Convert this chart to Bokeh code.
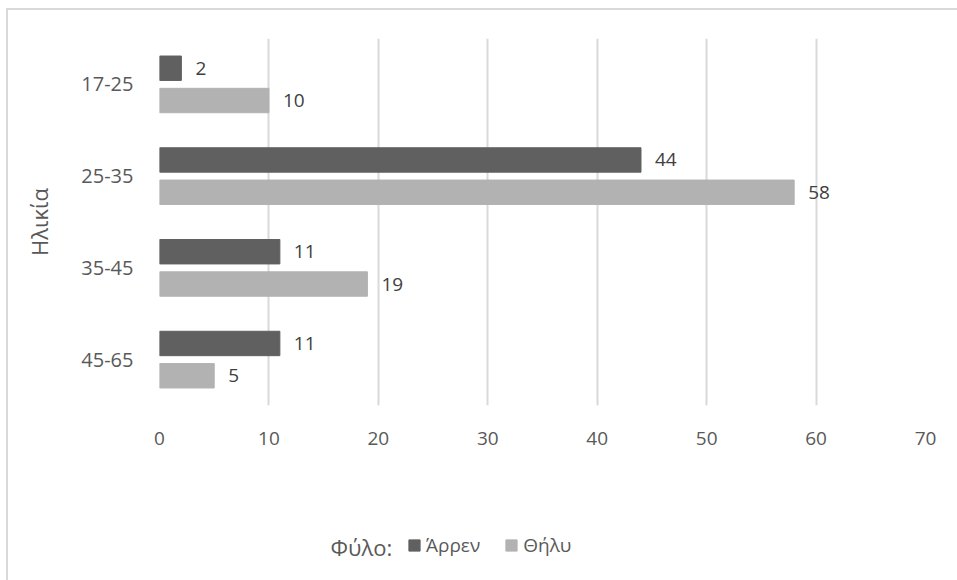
from bokeh.plotting import figure
from bokeh.layouts import column
from bokeh.models import (ColumnDataSource, Legend, LegendItem, FactorRange,
                          SingleIntervalTicker, Range1d, Label)
from bokeh.transform import dodge
from bokeh.core.properties import value
from bokeh.embed import file_html
from bokeh.resources import INLINE

# Age groups (top to bottom) and counts per gender
age_groups = ["17-25", "25-35", "35-45", "45-65"]
male = [2, 44, 11, 11]
female = [10, 58, 19, 5]
series_names = ["Άρρεν", "Θήλυ"]
legend_title = "Φύλο:"

FONT = "Open Sans"
TEXT = "#595959"
DARK = "#606060"
LIGHT = "#b2b2b2"

cats = list(reversed(age_groups))
src = ColumnDataSource(dict(
    cat=age_groups,
    male=male,
    female=female,
    male_lbl=[str(v) for v in male],
    female_lbl=[str(v) for v in female],
))

# --- main chart -------------------------------------------------------------
p = figure(
    width=949, height=460,
    y_range=FactorRange(*cats, range_padding=0),
    x_range=(0, 70),
    output_backend="svg", toolbar_location=None,
    min_border_left=151, min_border_right=32,
    min_border_top=28, min_border_bottom=65,
)
p.outline_line_color = None

p.hbar(y=dodge("cat", 0.176, range=p.y_range), right="male", left=0, height=0.266,
       source=src, fill_color=DARK, line_color=DARK)
p.hbar(y=dodge("cat", -0.176, range=p.y_range), right="female", left=0, height=0.266,
       source=src, fill_color=LIGHT, line_color=LIGHT)

p.text(x="male", y=dodge("cat", 0.176, range=p.y_range), text="male_lbl", source=src,
       x_offset=14, text_baseline="middle", text_align="left",
       text_font=value(FONT), text_font_size="19px", text_color="#404040")
p.text(x="female", y=dodge("cat", -0.176, range=p.y_range), text="female_lbl", source=src,
       x_offset=14, text_baseline="middle", text_align="left",
       text_font=value(FONT), text_font_size="19px", text_color="#404040")

p.xaxis.ticker = SingleIntervalTicker(interval=10)
p.xgrid.grid_line_color = "#d9d9d9"
p.xgrid.grid_line_width = 2
p.ygrid.grid_line_color = None

for ax in (p.xaxis[0], p.yaxis[0]):
    ax.axis_line_color = None
    ax.major_tick_line_color = None
    ax.minor_tick_line_color = None
    ax.major_label_text_font = FONT
    ax.major_label_text_font_size = "19px"
    ax.major_label_text_color = TEXT

p.yaxis.major_label_text_font_size = "20px"
p.xaxis.major_label_standoff = 20
p.yaxis.major_label_standoff = 20
p.yaxis.axis_label = "Ηλικία"
p.yaxis.axis_label_text_font = FONT
p.yaxis.axis_label_text_font_size = "22px"
p.yaxis.axis_label_text_font_style = "normal"
p.yaxis.axis_label_text_color = TEXT
p.yaxis.axis_label_standoff = 24

# --- legend strip (frame is aligned with the chart frame by the column) -----
q = figure(
    width=949, height=110,
    x_range=Range1d(0, 1), y_range=Range1d(0, 1),
    x_axis_type=None, y_axis_type=None,
    output_backend="svg", toolbar_location=None,
    min_border=0,
)
q.outline_line_color = None
q.grid.grid_line_color = None

# hidden renderers that only supply the legend swatches
q_m = q.hbar(y="male", right="male", left=0, height=0.3, source=src,
             fill_color=DARK, line_color=DARK, visible=False)
q_f = q.hbar(y="female", right="female", left=0, height=0.3, source=src,
             fill_color=LIGHT, line_color=LIGHT, visible=False)

q.add_layout(Label(x=171, y=34, x_units="screen", y_units="screen",
                   text=legend_title, text_baseline="middle", text_align="left",
                   text_font=FONT, text_font_size="22px", text_color=TEXT))

legend = Legend(
    items=[LegendItem(label=series_names[0], renderers=[q_m]),
           LegendItem(label=series_names[1], renderers=[q_f])],
    orientation="horizontal",
    location=(248, 22),
    click_policy="none",
    label_text_font=FONT, label_text_font_size="19px", label_text_color=TEXT,
    glyph_width=14, glyph_height=14, spacing=24, label_standoff=5,
    padding=0, margin=0,
    border_line_color=None, background_fill_alpha=0,
)
q.add_layout(legend, "center")

layout = column(p, q, spacing=0,
                styles={"margin-left": "6px", "margin-top": "8px",
                        "border-left": "2px solid #d9d9d9",
                        "border-top": "2px solid #d9d9d9"})

open("out.html", "w").write(file_html(layout, INLINE))
